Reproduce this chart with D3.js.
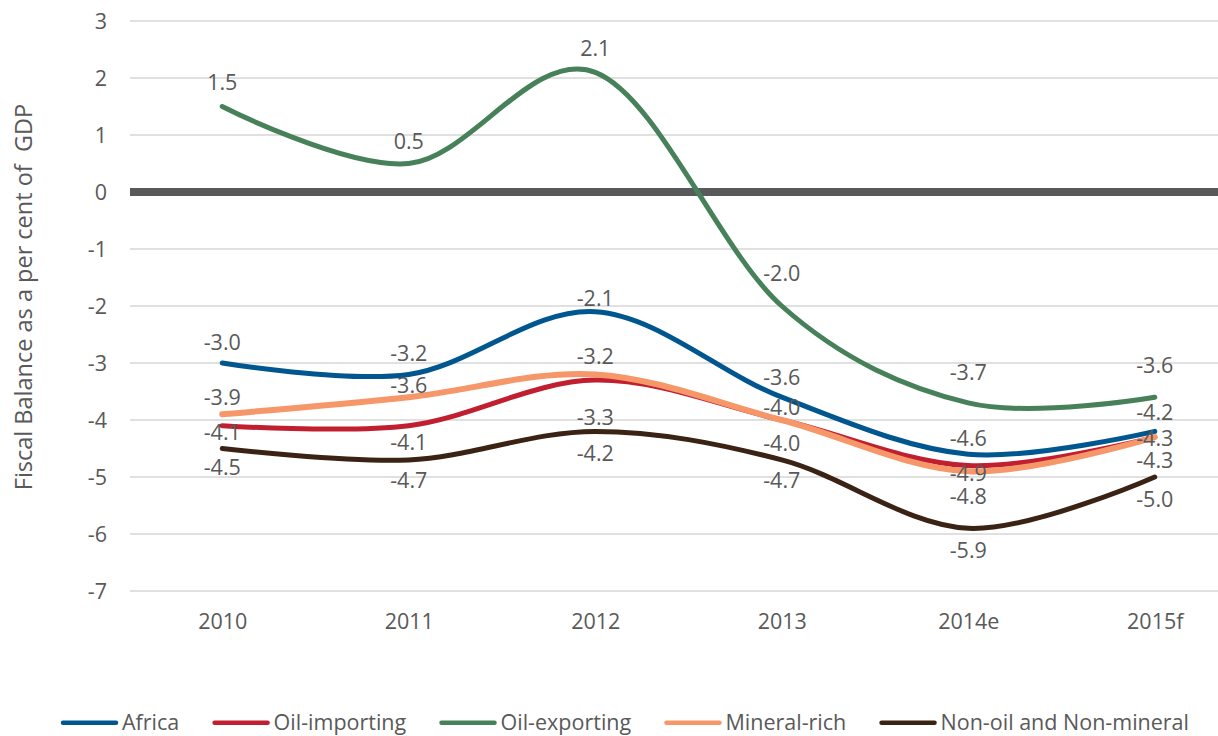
<!DOCTYPE html>
<html>
<head>
<meta charset="utf-8">
<script src="https://cdn.jsdelivr.net/npm/d3@7"></script>
<style>
  html, body { margin: 0; padding: 0; background: #ffffff; }
  svg { display: block; }
  text { font-family: "Open Sans", "Noto Sans", sans-serif; fill: #595959; }
</style>
</head>
<body>
<svg id="chart" width="1218" height="736"></svg>
<script>
// ---- data ----
const categories = ["2010", "2011", "2012", "2013", "2014e", "2015f"];
const seriesNames = ["Africa", "Oil-importing", "Oil-exporting", "Mineral-rich", "Non-oil and Non-mineral"];
const africa       = [-3.0, -3.2, -2.1, -3.6, -4.6, -4.2];
const oilImporting = [-4.1, -4.1, -3.3, -4.0, -4.8, -4.3];
const oilExporting = [ 1.5,  0.5,  2.1, -2.0, -3.7, -3.6];
const mineralRich  = [-3.9, -3.6, -3.2, -4.0, -4.9, -4.3];
const nonOil       = [-4.5, -4.7, -4.2, -4.7, -5.9, -5.0];
const yTicks = [-7, -6, -5, -4, -3, -2, -1, 0, 1, 2, 3];
const yTitle = "Fiscal Balance as a per cent of  GDP";

// ---- styling / layout ----
const colors = ["#00568f", "#c11f30", "#468159", "#f6976a", "#3a2314"];
const widths = [5, 5, 5, 6, 5];
// vertical nudge (px) of each data label from its point
const labelNudge = [
  [-21, -21, -13, -20, -16, -19],
  [7, 17, 37, 23, 31, 23],
  [-24, -22, -24, -33, -31, -32],
  [-17, -12, -18, -13, 2, 1],
  [19, 20, 22, 20, 22, 22]
];
const values = [africa, oilImporting, oilExporting, mineralRich, nonOil];
const series = seriesNames.map((name, i) => ({
  name, color: colors[i], width: widths[i], nudge: labelNudge[i],
  points: categories.map((c, j) => ({ cat: c, v: values[i][j] }))
}));

const W = 1218, H = 736;
const svg = d3.select("#chart");
const fs = 21.5;
const hyphen = s => s.replace(/\u2212/g, "-");

const x = d3.scalePoint().domain(categories).range([129, 1248]).padding(0.5);
const y = d3.scaleLinear().domain([-7, 3]).range([591, 21]);
const gridLeft = 130, gridRight = W;

// gridlines
svg.append("g").selectAll("line").data(yTicks.filter(t => t !== 0)).join("line")
  .attr("x1", gridLeft).attr("x2", gridRight)
  .attr("y1", d => y(d)).attr("y2", d => y(d))
  .attr("stroke", "#d6d6d6").attr("stroke-width", 1.6);

// y tick labels
const yAxis = d3.axisLeft(y).tickValues(yTicks).tickSize(0).tickPadding(0)
  .tickFormat(d => hyphen(d3.format("d")(d)));
const ya = svg.append("g").attr("transform", "translate(107,0)").call(yAxis);
ya.select(".domain").remove();
ya.selectAll("text").attr("x", 0).attr("dy", null)
  .attr("y", 7.7).style("font-size", fs + "px").style("font-family", "'Open Sans'").attr("fill", "#595959");

// x tick labels
const xAxis = d3.axisBottom(x).tickSize(0).tickPadding(0);
const xa = svg.append("g").call(xAxis);
xa.select(".domain").remove();
xa.selectAll("text").attr("y", 629).attr("dy", null)
  .style("font-size", fs + "px").style("font-family", "'Open Sans'").attr("fill", "#595959");

// zero line
svg.append("line")
  .attr("x1", gridLeft).attr("x2", gridRight)
  .attr("y1", y(0)).attr("y2", y(0))
  .attr("stroke", "#58595b").attr("stroke-width", 8);

// y title
svg.append("text")
  .attr("transform", "translate(32,297) rotate(-90)")
  .attr("text-anchor", "middle")
  .style("font-size", "23.5px")
  .style("white-space", "pre")
  .text(yTitle);

// lines
const line = d3.line().x(d => x(d.cat)).y(d => y(d.v)).curve(d3.curveCardinal.tension(0));
svg.append("g").selectAll("path").data(series).join("path")
  .attr("d", d => line(d.points))
  .attr("fill", "none")
  .attr("stroke", d => d.color)
  .attr("stroke-width", d => d.width)
  .attr("stroke-linecap", "round")
  .attr("stroke-linejoin", "round");

// data labels
const lg = svg.append("g");
series.forEach(s => {
  lg.selectAll(null).data(s.points).join("text")
    .attr("x", d => x(d.cat))
    .attr("y", (d, j) => y(d.v) + s.nudge[j] + 7.7)
    .attr("text-anchor", "middle")
    .style("font-size", fs + "px")
    .text(d => hyphen(d3.format(".1f")(d.v)));
});

// legend
const legY = 722.7, legStart = 61, legEnd = 1189, lineLen = 57, textGap = 4;
const leg = svg.append("g");
const items = series.map(s => {
  const t = leg.append("text").attr("y", 729.5).style("font-size", fs + "px").text(s.name);
  return { s, t, w: t.node().getComputedTextLength() };
});
const total = d3.sum(items, d => lineLen + textGap + d.w);
const gap = (legEnd - legStart - total) / (items.length - 1);
let cx = legStart;
items.forEach(it => {
  leg.append("line")
    .attr("x1", cx + 2).attr("x2", cx + lineLen - 2)
    .attr("y1", legY).attr("y2", legY)
    .attr("stroke", it.s.color).attr("stroke-width", 4.5).attr("stroke-linecap", "round");
  it.t.attr("x", cx + lineLen + textGap);
  cx += lineLen + textGap + it.w + gap;
});
</script>
</body>
</html>
